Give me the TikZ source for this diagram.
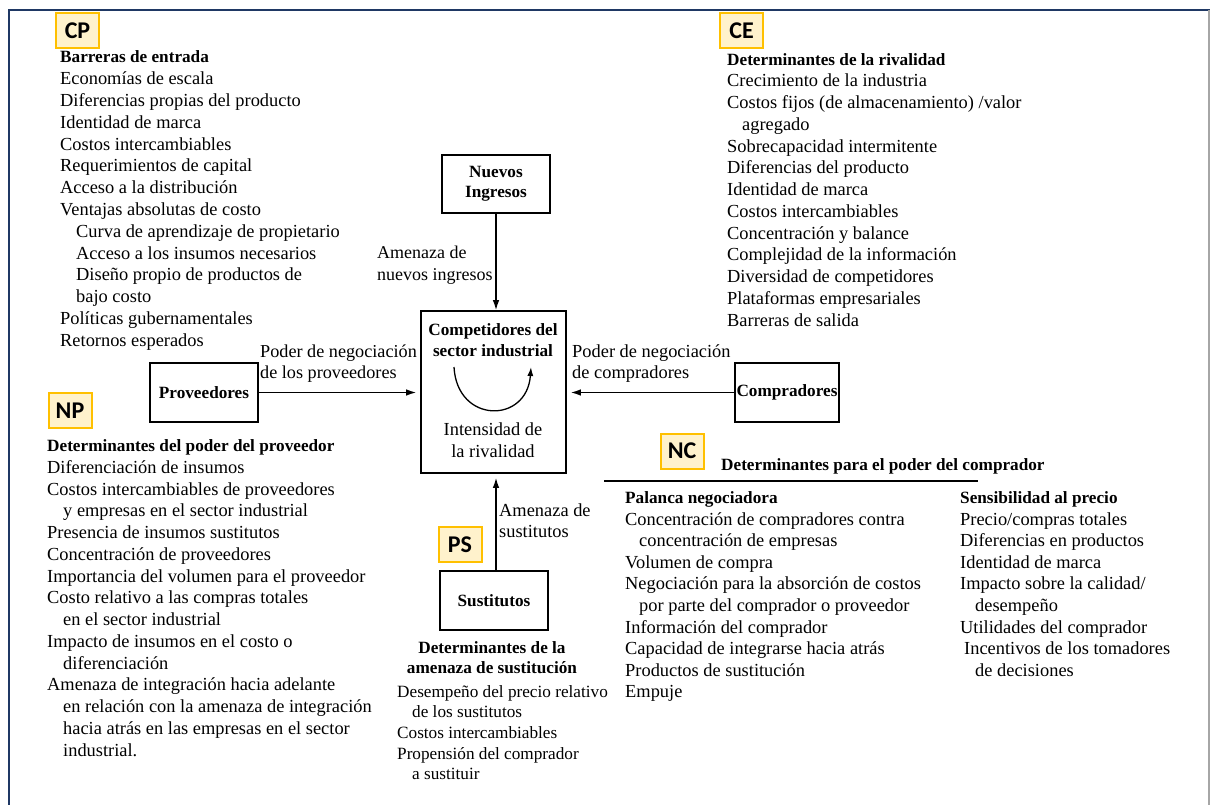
\documentclass[tikz,border=0pt]{standalone}
\usepackage{fontspec}
\setmainfont{Liberation Serif}
\newfontfamily\lblfont{Carlito}
\usetikzlibrary{arrows.meta,calc}
\newcommand{\hd}[1]{{\fontsize{17.2}{21.8}\selectfont\bfseries #1}}
\newcommand{\ind}{\hspace*{16pt}}
\definecolor{navy}{HTML}{1F3864}
\definecolor{lblfill}{HTML}{FFF2CC}
\definecolor{lbldraw}{HTML}{FFC000}
\begin{document}
\begin{tikzpicture}[x=1pt,y=-1pt,
  lst/.style={inner sep=0, anchor=north west, align=left, font=\fontsize{18.4}{21.8}\selectfont},
  ctr/.style={inner sep=0, anchor=north, align=center},
  box/.style={draw, line width=1.6pt, inner sep=0, font=\fontsize{17.2}{20}\selectfont\bfseries, align=center},
  tag/.style={draw=lbldraw, fill=lblfill, line width=2pt, minimum width=43pt, minimum height=35pt, inner sep=0, font=\lblfont\bfseries\fontsize{24}{24}\selectfont},
  arr/.style={line width=1.3pt, -{Latex[length=10pt,width=6.5pt]}}]
\useasboundingbox (0,0) rectangle (1210,805);
% frame
\draw[navy, line width=2.5pt] (9,805) -- (9,10) -- (1210,10);
\draw[gray!70, line width=1.5pt] (1209,10) -- (1209,805);

% tags
\node[tag] (tcp) at (77.5,30.5) {CP};
\node[tag] (tce) at (741.5,30.5) {CE};
\node[tag] (tnp) at (70,410.5) {NP};
\node[tag] (tps) at (460,544.5) {PS};
\node[tag] (tnc) at (682,451) {NC};

% central boxes
\node[box, minimum width=108pt, minimum height=58pt] (nuevos) at (496,184) {Nuevos\\Ingresos};
\node[box, minimum width=145pt, minimum height=162pt] (comp) at (493.5,392) {};
\node[box, minimum width=108pt, minimum height=59pt] (prov) at (204,392.5) {Proveedores};
\node[box, minimum width=104pt, minimum height=59pt] (compr) at (787,392.5) {Compradores};
\node[box, minimum width=108pt, minimum height=59pt] (sust) at (494,600.5) {Sustitutos};

\node[ctr, font=\fontsize{17.2}{21}\selectfont\bfseries] (comptop) at (493,320.3) {\strut Competidores del\\sector industrial};
\node[ctr, font=\fontsize{18.4}{22}\selectfont] (compbot) at (493,419.6) {\strut Intensidad de\\la rivalidad};
\draw[line width=1.3pt, -{Latex[length=9pt,width=6pt]}] (454,367) .. controls (457,424) and (527,424) .. (531,367);

% connectors
\draw[arr] (nuevos.south) -- (nuevos.south |- comp.north);
\draw[arr, shorten >=4pt] (prov.east) -- (prov.east -| comp.west);
\draw[arr, shorten >=4pt] (compr.west) -- (compr.west -| comp.east);
\draw[arr, shorten >=4pt] ([xshift=2pt]sust.north) -- ([xshift=2pt]sust.north |- comp.south);

% connector labels
\node[lst, font=\fontsize{18}{22}\selectfont] (lnuevos) at (377,242.7) {\strut Amenaza de\\nuevos ingresos};
\node[lst, font=\fontsize{18.2}{21.7}\selectfont] (lprov) at (260,341.7) {\strut Poder de negociación\\de los proveedores};
\node[lst, font=\fontsize{18.4}{21.7}\selectfont] (lcompr) at (572,341.7) {\strut Poder de negociación\\de compradores};
\node[lst, font=\fontsize{18.4}{21}\selectfont] (lsust) at (499,501.7) {\strut Amenaza de\\sustitutos};

% CP block
\node[lst] (cpl) at (60,47.4) {\strut\hd{Barreras de entrada}\\
Economías de escala\\
Diferencias propias del producto\\
Identidad de marca\\
Costos intercambiables\\
Requerimientos de capital\\
Acceso a la distribución\\
Ventajas absolutas de costo\\
\ind Curva de aprendizaje de propietario\\
\ind Acceso a los insumos necesarios\\
\ind Diseño propio de productos de\\
\ind bajo costo\\
Políticas gubernamentales\\
Retornos esperados};

% CE block
\node[lst, font=\fontsize{18.4}{21.75}\selectfont] (cel) at (727,49.7) {\strut\hd{Determinantes de la rivalidad}\\
Crecimiento de la industria\\
Costos fijos (de almacenamiento) /valor\\
\hspace*{15pt}agregado\\
Sobrecapacidad intermitente\\
Diferencias del producto\\
Identidad de marca\\
Costos intercambiables\\
Concentración y balance\\
Complejidad de la información\\
Diversidad de competidores\\
Plataformas empresariales\\
Barreras de salida};

% NP block
\node[lst, font=\fontsize{18.4}{21.75}\selectfont] (npl) at (47,436.2) {\strut\hd{Determinantes del poder del proveedor}\\
Diferenciación de insumos\\
Costos intercambiables de proveedores\\
\ind y empresas en el sector industrial\\
Presencia de insumos sustitutos\\
Concentración de proveedores\\
Importancia del volumen para el proveedor\\
Costo relativo a las compras totales\\
\ind en el sector industrial\\
Impacto de insumos en el costo o\\
\ind diferenciación\\
Amenaza de integración hacia adelante\\
\ind en relación con la amenaza de integración\\
\ind hacia atrás en las empresas en el sector\\
\ind industrial.};

% PS block
\node[ctr, font=\fontsize{17.2}{20.5}\selectfont\bfseries] (psh) at (492,638.6) {\strut Determinantes de la\\amenaza de sustitución};
\node[lst, font=\fontsize{17.2}{20.7}\selectfont] (psl) at (397,682.5) {\strut Desempeño del precio relativo\\
\hspace*{15pt}de los sustitutos\\
Costos intercambiables\\
Propensión del comprador\\
\hspace*{15pt}a sustituir};

% NC block
\node[inner sep=0, anchor=base west, font=\fontsize{17.2}{21.8}\selectfont\bfseries] (nch) at (721,470) {Determinantes para el poder del comprador};
\draw[line width=1.4pt] (604,481) -- (978,481);
\node[lst, font=\fontsize{18.4}{21.6}\selectfont] (ncl) at (625,488.2) {\strut\hd{Palanca negociadora}\\
Concentración de compradores contra\\
\hspace*{14pt}concentración de empresas\\
Volumen de compra\\
Negociación para la absorción de costos\\
\hspace*{14pt}por parte del comprador o proveedor\\
Información del comprador\\
Capacidad de integrarse hacia atrás\\
Productos de sustitución\\
Empuje};
\node[lst, font=\fontsize{18.4}{21.6}\selectfont] (ncr) at (960,488.2) {\strut\hd{Sensibilidad al precio}\\
Precio/compras totales\\
Diferencias en productos\\
Identidad de marca\\
Impacto sobre la calidad/\\
\hspace*{15pt}desempeño\\
Utilidades del comprador\\
\hspace*{4pt}Incentivos de los tomadores\\
\hspace*{15pt}de decisiones};
\end{tikzpicture}
\end{document}
